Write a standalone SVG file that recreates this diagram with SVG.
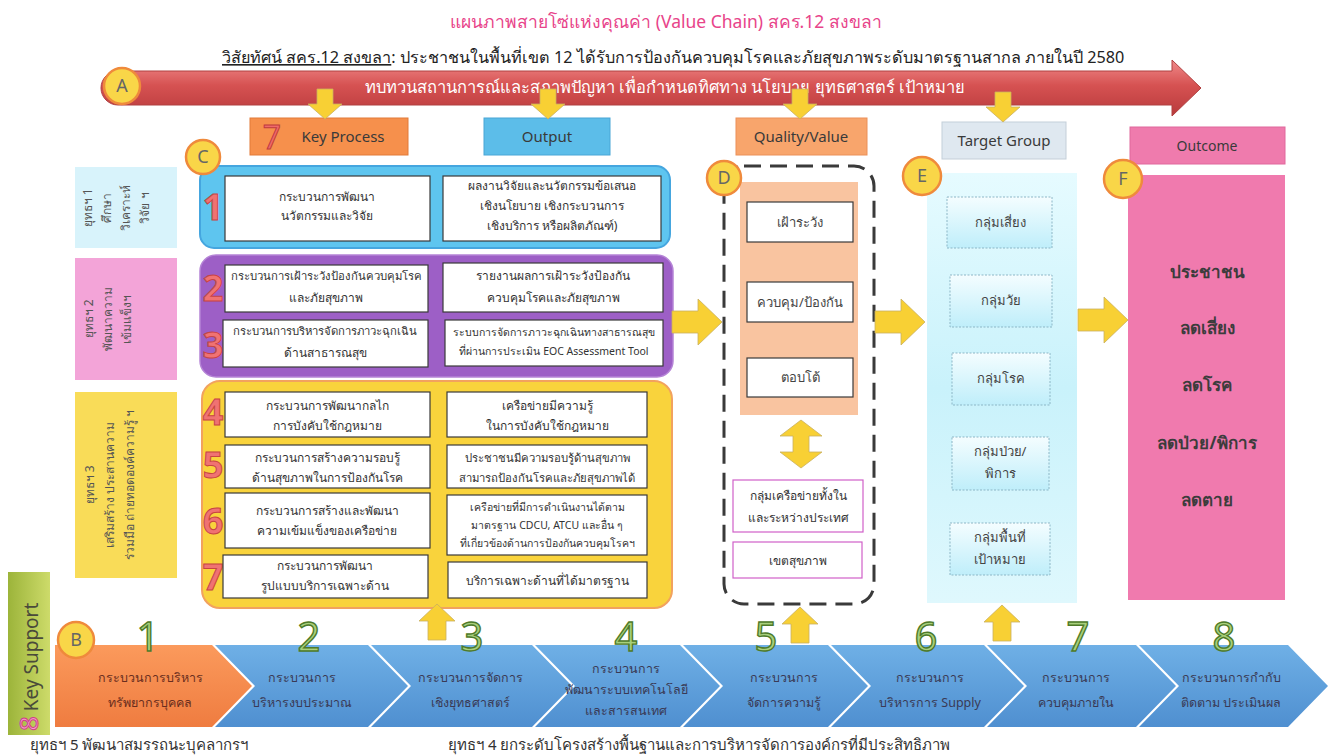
<svg xmlns="http://www.w3.org/2000/svg" width="1332" height="755" viewBox="0 0 1332 755">
<defs>
  <linearGradient id="gRed" x1="0" y1="0" x2="0" y2="1">
    <stop offset="0" stop-color="#f08a8a"/>
    <stop offset="0.45" stop-color="#d65252"/>
    <stop offset="1" stop-color="#b83a3c"/>
  </linearGradient>
  <linearGradient id="gBlueChev" x1="0" y1="0" x2="0" y2="1">
    <stop offset="0" stop-color="#6fb0e6"/>
    <stop offset="1" stop-color="#4f8fd0"/>
  </linearGradient>
  <linearGradient id="gOrChev" x1="0" y1="0" x2="0" y2="1">
    <stop offset="0" stop-color="#fb9a5c"/>
    <stop offset="1" stop-color="#ef7c40"/>
  </linearGradient>
  <linearGradient id="gKS" x1="0" y1="0" x2="1" y2="0">
    <stop offset="0" stop-color="#9cb43a"/>
    <stop offset="1" stop-color="#cddb6a"/>
  </linearGradient>
  <linearGradient id="gECol" x1="0" y1="0" x2="0" y2="1">
    <stop offset="0" stop-color="#e6fbff"/>
    <stop offset="0.5" stop-color="#c9f2fb"/>
    <stop offset="1" stop-color="#dff8fd"/>
  </linearGradient>
  <linearGradient id="gEBox" x1="0" y1="0" x2="0" y2="1">
    <stop offset="0" stop-color="#f4fdff"/>
    <stop offset="1" stop-color="#bfeefa"/>
  </linearGradient>
  <path id="arrDown" d="M-8,-30 H8 V-15 H17 L0,0 L-17,-15 H-8 Z"/>
  <path id="arrUp" d="M-9,36 H9 V17 H18 L0,0 L-18,17 H-9 Z"/>
  <path id="arrRight" d="M-50,-11 H-24 V-23 L0,0 L-24,23 V11 H-50 Z"/>
  <path id="arrBoth" d="M0,-24 L21,-8 H8 V8 H21 L0,24 L-21,8 H-8 V-8 H-21 Z"/>
</defs>
<style>
  text { font-family: "Noto Sans", "DejaVu Sans", sans-serif; fill: #333; }
  .yarr { fill: #f8d034; stroke: #c9b060; stroke-width: 0.8; }
  .circ { fill: #f9d648; stroke: #ef8a3c; stroke-width: 2.5; }
  .clet { font-size: 18px; fill: #666; text-anchor: middle; }
  .wbox { fill: #ffffff; stroke: #3a3a3a; stroke-width: 1.2; }
  .bt { font-size: 12px; text-anchor: middle; fill: #333; }
  .bn { font-size: 11.3px; text-anchor: middle; fill: #333; }
  .bts { font-size: 10.5px; text-anchor: middle; fill: #333; }
  .rnum { font-size: 36px; font-weight: bold; fill: #f07272; stroke: #c84444; stroke-width: 1; text-anchor: middle; }
  .gnum { font-size: 40px; fill: #a8d07c; stroke: #4e7a2a; stroke-width: 1.4; text-anchor: middle; }
  .hdr { font-size: 15px; text-anchor: middle; fill: #3a3a3a; }
  .lab { font-size: 12px; text-anchor: middle; fill: #555; }
  .ct { font-size: 12.5px; text-anchor: middle; fill: #3a3a55; }
  .cto { font-size: 12.5px; text-anchor: middle; fill: #6a2e1e; }
  .dbox { fill: #ffffff; stroke: #3a3a3a; stroke-width: 1.2; }
  .mbox { fill: #ffffff; stroke: #d060c8; stroke-width: 1.2; }
  .ebox { fill: url(#gEBox); stroke: #8cb6c6; stroke-width: 1; stroke-dasharray: 2 1.5; }
  .et { font-size: 13px; text-anchor: middle; fill: #444; }
  .ft { font-size: 17px; font-weight: bold; text-anchor: middle; fill: #3c3c3c; }
  .foot { font-size: 15px; fill: #333; }
</style>

<rect width="1332" height="755" fill="#ffffff"/>

<!-- Title -->
<g id="title">
  <text x="666" y="28" style="font-size:17.5px;text-anchor:middle;fill:#e8448a">แผนภาพสายโซ่แห่งคุณค่า (Value Chain) สคร.12 สงขลา</text>
  <text x="222" y="63" style="font-size:16.2px;fill:#222"><tspan text-decoration="underline">วิสัยทัศน์ สคร.12 สงขลา</tspan>: ประชาชนในพื้นที่เขต  12 ได้รับการป้องกันควบคุมโรคและภัยสุขภาพระดับมาตรฐานสากล  ภายในปี 2580</text>
</g>

<!-- A arrow -->
<g id="nodeA">
  <path d="M118,71 H1172 V60 L1201,88 L1172,116 V105 H118 A17,17 0 0 1 118,71 Z" fill="url(#gRed)" stroke="#b04040" stroke-width="1"/>
  <text x="665" y="93" style="font-size:16.5px;text-anchor:middle;fill:#ffffff">ทบทวนสถานการณ์และสภาพปัญหา  เพื่อกำหนดทิศทาง นโยบาย ยุทธศาสตร์ เป้าหมาย</text>
  <circle cx="122" cy="86" r="18" class="circ"/>
  <text x="122" y="92" class="clet">A</text>
</g>

<!-- Headers -->
<g id="hdrKeyProcess">
  <rect x="250" y="118" width="158" height="37" fill="#f6904c" stroke="#e27a38" stroke-width="1"/>
  <text x="272" y="149" style="font-size:32px;text-anchor:middle;fill:#f06a6a;stroke:#c03c3c;stroke-width:1">7</text>
  <text x="343" y="142" class="hdr">Key Process</text>
</g>
<g id="hdrOutput">
  <rect x="484" y="118" width="126" height="37" fill="#5cbde9" stroke="#48a6d6" stroke-width="1"/>
  <text x="547" y="142" class="hdr">Output</text>
</g>
<g id="hdrQuality">
  <rect x="736" y="118" width="131" height="37" fill="#f8a56c" stroke="#eb9058" stroke-width="1"/>
  <text x="801" y="142" class="hdr">Quality/Value</text>
</g>
<g id="hdrTarget">
  <rect x="942" y="122" width="124" height="37" fill="#dfe8f0" stroke="#c4cfd9" stroke-width="1"/>
  <text x="1004" y="146" class="hdr">Target Group</text>
</g>
<g id="hdrOutcome">
  <rect x="1130" y="127" width="155" height="37" fill="#ef7bad" stroke="#e0689c" stroke-width="1"/>
  <text x="1207" y="151" class="hdr" style="font-size:14px">Outcome</text>
</g>

<!-- Left strategy labels -->
<g id="strat1">
  <rect x="75" y="167" width="102" height="81" fill="#d8f3fb"/>
  <text class="lab" transform="translate(92,208) rotate(-90)">ยุทธฯ 1</text>
  <text class="lab" transform="translate(111,208) rotate(-90)">ศึกษา</text>
  <text class="lab" transform="translate(130,208) rotate(-90)">วิเคราะห์</text>
  <text class="lab" transform="translate(149,208) rotate(-90)">วิจัย ฯ</text>
</g>
<g id="strat2">
  <rect x="75" y="258" width="102" height="122" fill="#f3a4d8"/>
  <text class="lab" transform="translate(93,319) rotate(-90)">ยุทธฯ 2</text>
  <text class="lab" transform="translate(112,319) rotate(-90)">พัฒนาความ</text>
  <text class="lab" transform="translate(131,319) rotate(-90)">เข้มแข็งฯ</text>
</g>
<g id="strat3">
  <rect x="75" y="392" width="102" height="186" fill="#f9dc58"/>
  <text class="lab" transform="translate(94,485) rotate(-90)">ยุทธฯ 3</text>
  <text class="lab" transform="translate(114,485) rotate(-90)">เสริมสร้าง ประสานความ</text>
  <text class="lab" transform="translate(134,485) rotate(-90)">ร่วมมือ ถ่ายทอดองค์ความรู้ ฯ</text>
</g>

<!-- C groups -->
<g id="groupC1">
  <rect x="200" y="166" width="470" height="82" rx="14" fill="#5ec5ef" stroke="#45a6df" stroke-width="2"/>
  <text x="213" y="220" class="rnum">1</text>
  <rect x="225" y="176" width="205" height="65" class="wbox"/>
  <text x="327" y="201" class="bt">กระบวนการพัฒนา</text>
  <text x="327" y="220" class="bt">นวัตกรรมและวิจัย</text>
  <rect x="443" y="176" width="218" height="65" class="wbox"/>
  <text x="552" y="190" class="bt">ผลงานวิจัยและนวัตกรรมข้อเสนอ</text>
  <text x="552" y="210" class="bt">เชิงนโยบาย เชิงกระบวนการ</text>
  <text x="552" y="230" class="bt">เชิงบริการ หรือผลิตภัณฑ์)</text>
</g>
<g id="groupC2">
  <rect x="200" y="255" width="473" height="122" rx="16" fill="#9d5fc6" stroke="#b584d6" stroke-width="1.5"/>
  <text x="213" y="301" class="rnum">2</text>
  <text x="213" y="358" class="rnum">3</text>
  <rect x="225" y="265" width="203" height="47" class="wbox"/>
  <text x="326" y="280" class="bn">กระบวนการเฝ้าระวังป้องกันควบคุมโรค</text>
  <text x="326" y="302" class="bt">และภัยสุขภาพ</text>
  <rect x="443" y="263" width="220" height="49" class="wbox"/>
  <text x="553" y="280" class="bt">รายงานผลการเฝ้าระวังป้องกัน</text>
  <text x="553" y="302" class="bt">ควบคุมโรคและภัยสุขภาพ</text>
  <rect x="223" y="320" width="205" height="47" class="wbox"/>
  <text x="325" y="335" class="bn">กระบวนการบริหารจัดการภาวะฉุกเฉิน</text>
  <text x="325" y="357" class="bt">ด้านสาธารณสุข</text>
  <rect x="445" y="320" width="218" height="46" class="wbox"/>
  <text x="554" y="336" class="bts">ระบบการจัดการภาวะฉุกเฉินทางสาธารณสุข</text>
  <text x="554" y="355" class="bts">ที่ผ่านการประเมิน EOC Assessment Tool</text>
</g>
<g id="groupC3">
  <rect x="202" y="381" width="470" height="227" rx="18" fill="#f9d33c" stroke="#f2a25e" stroke-width="2"/>
  <text x="213" y="425" class="rnum">4</text>
  <text x="213" y="478" class="rnum">5</text>
  <text x="213" y="534" class="rnum">6</text>
  <text x="213" y="590" class="rnum">7</text>
  <rect x="225" y="392" width="205" height="45" class="wbox"/>
  <text x="327" y="410" class="bt">กระบวนการพัฒนากลไก</text>
  <text x="327" y="430" class="bt">การบังคับใช้กฎหมาย</text>
  <rect x="447" y="392" width="200" height="45" class="wbox"/>
  <text x="547" y="410" class="bt">เครือข่ายมีความรู้</text>
  <text x="547" y="430" class="bt">ในการบังคับใช้กฎหมาย</text>
  <rect x="225" y="445" width="205" height="43" class="wbox"/>
  <text x="327" y="462" class="bt">กระบวนการสร้างความรอบรู้</text>
  <text x="327" y="482" class="bt">ด้านสุขภาพในการป้องกันโรค</text>
  <rect x="447" y="445" width="200" height="43" class="wbox"/>
  <text x="547" y="462" class="bn">ประชาชนมีความรอบรู้ด้านสุขภาพ</text>
  <text x="547" y="482" class="bn">สามารถป้องกันโรคและภัยสุขภาพได้</text>
  <rect x="225" y="493" width="205" height="55" class="wbox"/>
  <text x="327" y="515" class="bt">กระบวนการสร้างและพัฒนา</text>
  <text x="327" y="535" class="bt">ความเข้มแข็งของเครือข่าย</text>
  <rect x="447" y="495" width="200" height="60" class="wbox"/>
  <text x="547" y="511" class="bts">เครือข่ายที่มีการดำเนินงานได้ตาม</text>
  <text x="547" y="529" class="bts">มาตรฐาน CDCU, ATCU และอื่น ๆ</text>
  <text x="547" y="547" class="bts">ที่เกี่ยวข้องด้านการป้องกันควบคุมโรคฯ</text>
  <rect x="223" y="555" width="205" height="43" class="wbox"/>
  <text x="325" y="570" class="bt">กระบวนการพัฒนา</text>
  <text x="325" y="590" class="bt">รูปแบบบริการเฉพาะด้าน</text>
  <rect x="448" y="562" width="199" height="36" class="wbox"/>
  <text x="547" y="585" class="bt">บริการเฉพาะด้านที่ได้มาตรฐาน</text>
</g>
<g id="nodeC">
  <circle cx="203" cy="157" r="17" class="circ"/>
  <text x="203" y="163" class="clet">C</text>
</g>

<!-- D column -->
<g id="columnD">
  <rect x="724" y="166" width="150" height="438" rx="20" fill="none" stroke="#3a3a3a" stroke-width="3" stroke-dasharray="17 9"/>
  <rect x="740" y="182" width="118" height="233" fill="#f9c4a0"/>
  <rect x="747" y="202" width="106" height="40" class="dbox"/>
  <text x="800" y="227" class="et">เฝ้าระวัง</text>
  <rect x="747" y="282" width="106" height="40" class="dbox"/>
  <text x="800" y="307" class="et">ควบคุม/ป้องกัน</text>
  <rect x="747" y="358" width="106" height="39" class="dbox"/>
  <text x="800" y="382" class="et">ตอบโต้</text>
  <rect x="733" y="480" width="130" height="52" class="mbox"/>
  <text x="798" y="500" class="bt">กลุ่มเครือข่ายทั้งใน</text>
  <text x="798" y="522" class="bt">และระหว่างประเทศ</text>
  <rect x="733" y="542" width="129" height="36" class="mbox"/>
  <text x="798" y="565" class="bt">เขตสุขภาพ</text>
  <circle cx="724" cy="178" r="17" class="circ"/>
  <text x="724" y="184" class="clet">D</text>
</g>

<!-- E column -->
<g id="columnE">
  <rect x="927" y="173" width="150" height="430" fill="url(#gECol)"/>
  <rect x="947" y="197" width="105" height="51" class="ebox"/>
  <text x="1000" y="227" class="et">กลุ่มเสี่ยง</text>
  <rect x="950" y="275" width="102" height="52" class="ebox"/>
  <text x="1001" y="305" class="et">กลุ่มวัย</text>
  <rect x="952" y="353" width="98" height="52" class="ebox"/>
  <text x="1001" y="383" class="et">กลุ่มโรค</text>
  <rect x="952" y="437" width="97" height="53" class="ebox"/>
  <text x="1000" y="456" class="et">กลุ่มป่วย/</text>
  <text x="1000" y="478" class="et">พิการ</text>
  <rect x="950" y="523" width="100" height="52" class="ebox"/>
  <text x="1000" y="542" class="et">กลุ่มพื้นที่</text>
  <text x="1000" y="564" class="et">เป้าหมาย</text>
  <circle cx="922" cy="176" r="19" class="circ"/>
  <text x="922" y="182" class="clet">E</text>
</g>

<!-- F column -->
<g id="columnF">
  <rect x="1128" y="175" width="157" height="425" fill="#f07aae"/>
  <text x="1207" y="278" class="ft">ประชาชน</text>
  <text x="1207" y="334" class="ft">ลดเสี่ยง</text>
  <text x="1207" y="391" class="ft">ลดโรค</text>
  <text x="1207" y="449" class="ft">ลดป่วย/พิการ</text>
  <text x="1207" y="506" class="ft">ลดตาย</text>
  <circle cx="1123" cy="179" r="19" class="circ"/>
  <text x="1123" y="185" class="clet">F</text>
</g>

<!-- Key Support -->
<g id="keySupport">
  <rect x="8" y="572" width="42" height="163" fill="url(#gKS)"/>
  <text transform="translate(38,731) rotate(-90)" style="font-size:19px;fill:#4a4a3a"><tspan style="font-size:26px;fill:#f4a0c8;stroke:#d0408a;stroke-width:1">8</tspan> Key Support</text>
</g>

<!-- B chevrons -->
<g id="chevrons">
  <g id="chev1">
    <path d="M55,645 H212 L252,686 L212,727 H55 Z" fill="url(#gOrChev)"/>
    <text x="150" y="682" class="cto">กระบวนการบริหาร</text>
    <text x="150" y="707" class="cto">ทรัพยากรบุคคล</text>
  </g>
  <g id="chev2">
    <path d="M215,645 H368 L408,686 L368,727 H215 L255,686 Z" fill="url(#gBlueChev)"/>
    <text x="302" y="682" class="ct">กระบวนการ</text>
    <text x="302" y="707" class="ct">บริหารงบประมาณ</text>
  </g>
  <g id="chev3">
    <path d="M371,645 H532 L572,686 L532,727 H371 L411,686 Z" fill="url(#gBlueChev)"/>
    <text x="470" y="682" class="ct">กระบวนการจัดการ</text>
    <text x="470" y="707" class="ct">เชิงยุทธศาสตร์</text>
  </g>
  <g id="chev4">
    <path d="M535,645 H680 L720,686 L680,727 H535 L575,686 Z" fill="url(#gBlueChev)"/>
    <text x="626" y="673" class="ct">กระบวนการ</text>
    <text x="626" y="694" class="ct">พัฒนาระบบเทคโนโลยี</text>
    <text x="626" y="715" class="ct">และสารสนเทศ</text>
  </g>
  <g id="chev5">
    <path d="M683,645 H828 L868,686 L828,727 H683 L723,686 Z" fill="url(#gBlueChev)"/>
    <text x="784" y="682" class="ct">กระบวนการ</text>
    <text x="784" y="707" class="ct">จัดการความรู้</text>
  </g>
  <g id="chev6">
    <path d="M831,645 H984 L1024,686 L984,727 H831 L871,686 Z" fill="url(#gBlueChev)"/>
    <text x="930" y="682" class="ct">กระบวนการ</text>
    <text x="930" y="707" class="ct">บริหารการ Supply</text>
  </g>
  <g id="chev7">
    <path d="M987,645 H1136 L1176,686 L1136,727 H987 L1027,686 Z" fill="url(#gBlueChev)"/>
    <text x="1076" y="682" class="ct">กระบวนการ</text>
    <text x="1076" y="707" class="ct">ควบคุมภายใน</text>
  </g>
  <g id="chev8">
    <path d="M1139,645 H1288 L1328,686 L1288,727 H1139 L1179,686 Z" fill="url(#gBlueChev)"/>
    <text x="1231" y="682" class="ct">กระบวนการกำกับ</text>
    <text x="1231" y="707" class="ct">ติดตาม ประเมินผล</text>
  </g>
  <text x="148" y="651" class="gnum">1</text>
  <text x="309" y="651" class="gnum">2</text>
  <text x="472" y="651" class="gnum">3</text>
  <text x="626" y="651" class="gnum">4</text>
  <text x="766" y="651" class="gnum">5</text>
  <text x="926" y="651" class="gnum">6</text>
  <text x="1078" y="651" class="gnum">7</text>
  <text x="1224" y="651" class="gnum">8</text>
</g>
<g id="nodeB">
  <circle cx="76" cy="640" r="18" class="circ"/>
  <text x="76" y="646" class="clet">B</text>
</g>

<!-- Connectors -->
<g id="connectors">
  <use href="#arrDown" x="325" y="119" class="yarr"/>
  <use href="#arrDown" x="548" y="119" class="yarr"/>
  <use href="#arrDown" x="800" y="119" class="yarr"/>
  <use href="#arrDown" x="1003" y="122" class="yarr"/>
  <use href="#arrRight" x="722" y="322" class="yarr"/>
  <use href="#arrRight" x="925" y="322" class="yarr"/>
  <use href="#arrRight" x="1128" y="320" class="yarr"/>
  <use href="#arrBoth" x="801" y="444" class="yarr"/>
  <use href="#arrUp" x="437" y="604" class="yarr"/>
  <use href="#arrUp" x="800" y="607" class="yarr"/>
  <use href="#arrUp" x="1002" y="605" class="yarr"/>
</g>

<!-- Footer -->
<g id="footer">
  <text x="30" y="750" class="foot">ยุทธฯ 5 พัฒนาสมรรถนะบุคลากรฯ</text>
  <text x="448" y="750" class="foot">ยุทธฯ 4 ยกระดับโครงสร้างพื้นฐานและการบริหารจัดการองค์กรที่มีประสิทธิภาพ</text>
</g>
</svg>
